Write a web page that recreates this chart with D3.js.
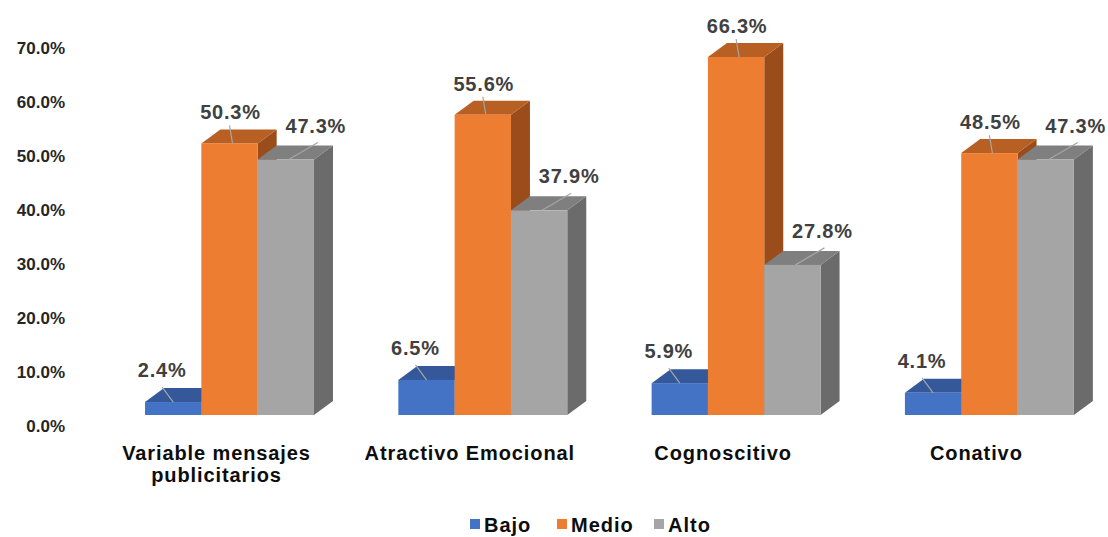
<!DOCTYPE html>
<html>
<head>
<meta charset="utf-8">
<script src="https://cdn.jsdelivr.net/npm/d3@7"></script>
<style>
  body { margin: 0; background: #fff; }
  svg { display: block; }
  text { font-family: "Liberation Sans", Arial, sans-serif; font-weight: bold; }
</style>
</head>
<body>
<svg id="chart" width="1108" height="537"></svg>
<script>
const categories = [["Variable mensajes", "publicitarios"], ["Atractivo Emocional"], ["Cognoscitivo"], ["Conativo"]];
const seriesNames = ["Bajo", "Medio", "Alto"];
const bajo  = [2.4, 6.5, 5.9, 4.1];
const medio = [50.3, 55.6, 66.3, 48.5];
const alto  = [47.3, 37.9, 27.8, 47.3];
const tickValues = [0, 10, 20, 30, 40, 50, 60, 70];

const seriesValues = [bajo, medio, alto];
const colors = {
  Bajo:  { front: "#4472C4", top: "#34589A", side: "#2B4A82" },
  Medio: { front: "#ED7D31", top: "#B85F24", side: "#9A4D1B" },
  Alto:  { front: "#A5A5A5", top: "#7F7F7F", side: "#6B6B6B" }
};
// label offsets relative to front-top-centre of each bar (per series)
const labelStyle = {
  Bajo:  { tx: -11, ty: -32, lx: -11, ly: -15, ex: 0 },
  Medio: { tx: 1,   ty: -31, lx: 0,   ly: -18, ex: 3 },
  Alto:  { tx: 30,  ty: -34, lx: 32,  ly: -17, ex: 3 }
};

const svg = d3.select("#chart");
const catKeys = categories.map(c => c.join(" "));

const x0 = d3.scaleBand().domain(catKeys).range([119.7, 1099.2]).paddingInner(0.333).paddingOuter(0.1);
const x1 = d3.scaleBand().domain(seriesNames).range([0, x0.bandwidth()]).padding(0);
const y = d3.scaleLinear().domain([0, 70]).range([415, 37]);
const dx = 19, dy = -14;

// Y axis labels (on back wall, shifted)
const yAxisScale = d3.scaleLinear().domain([0, 70]).range([426, 48]);
const yAxis = d3.axisLeft(yAxisScale).tickValues(tickValues).tickFormat(d => d.toFixed(1) + "%").tickSize(0).tickPadding(0);
const ga = svg.append("g").attr("transform", "translate(65,0)").call(yAxis);
ga.select(".domain").remove();
ga.selectAll("text").attr("font-size", 17).attr("fill", "#262626")
  .style("font-family", "'Liberation Sans', Arial, sans-serif").style("font-weight", "bold");

// Bars
const bars = [];
catKeys.forEach((cat, ci) => {
  seriesNames.forEach((s, si) => {
    bars.push({ cat, s, v: seriesValues[si][ci] });
  });
});

const gBars = svg.append("g");
bars.forEach(b => {
  const x = x0(b.cat) + x1(b.s);
  const w = x1.bandwidth();
  const yt = y(b.v), yb = y(0);
  const c = colors[b.s];
  const g = gBars.append("g");
  g.append("polygon")
    .attr("points", [[x + w, yt], [x + w + dx, yt + dy], [x + w + dx, yb + dy], [x + w, yb]].map(p => p.join(",")).join(" "))
    .attr("fill", c.side);
  g.append("polygon")
    .attr("points", [[x, yt], [x + w, yt], [x + w + dx, yt + dy], [x + dx, yt + dy]].map(p => p.join(",")).join(" "))
    .attr("fill", c.top);
  g.append("rect").attr("x", x).attr("y", yt).attr("width", w).attr("height", yb - yt).attr("fill", c.front);
});

// Data labels
const gLab = svg.append("g");
bars.forEach(b => {
  const cx = x0(b.cat) + x1(b.s) + x1.bandwidth() / 2;
  const yt = y(b.v);
  const ls = labelStyle[b.s];
  gLab.append("line")
    .attr("x1", cx + ls.lx).attr("y1", yt + ls.ly)
    .attr("x2", cx + ls.ex).attr("y2", yt)
    .attr("stroke", "#A6A6A6").attr("stroke-width", 1.2);
  gLab.append("text")
    .attr("x", cx + ls.tx).attr("y", yt + ls.ty)
    .attr("text-anchor", "middle").attr("dominant-baseline", "central")
    .attr("font-size", 20).attr("letter-spacing", 0.8).attr("fill", "#404040")
    .text(b.v.toFixed(1) + "%");
});

// Category labels
const gCat = svg.append("g");
categories.forEach((lines, i) => {
  const cx = x0(catKeys[i]) + x0.bandwidth() / 2 - 13;
  const t = gCat.append("text").attr("text-anchor", "middle").attr("font-size", 20)
    .attr("letter-spacing", 0.9).attr("fill", "#0D0D0D");
  lines.forEach((ln, j) => {
    t.append("tspan").attr("x", cx).attr("y", 460 + j * 22).text(ln);
  });
});

// Legend
const legendX = [470, 557, 654];
const gLeg = svg.append("g");
seriesNames.forEach((s, i) => {
  gLeg.append("rect").attr("x", legendX[i]).attr("y", 519).attr("width", 10).attr("height", 10).attr("fill", colors[s].front);
  gLeg.append("text").attr("x", legendX[i] + 14).attr("y", 532).attr("font-size", 20)
    .attr("letter-spacing", 1).attr("fill", "#0D0D0D").text(s);
});
</script>
</body>
</html>
